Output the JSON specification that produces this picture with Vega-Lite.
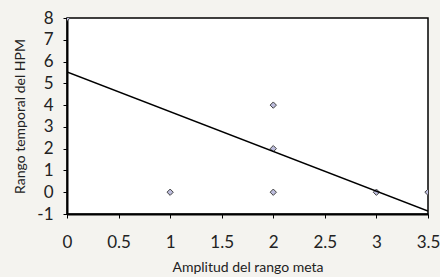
{
  "$schema": "https://vega.github.io/schema/vega-lite/v6.json",
  "width": 361,
  "height": 196,
  "autosize": {"type": "none"},
  "padding": {"left": 67, "top": 18, "right": 12, "bottom": 63},
  "background": "#f4f3ef",
  "config": {
    "view": {"stroke": "#000000", "strokeWidth": 1.5, "fill": "#ffffff"},
    "axis": {
      "grid": false,
      "domainColor": "#000000",
      "domainWidth": 2,
      "tickColor": "#000000",
      "tickSize": 4,
      "labelOverlap": false,
      "labelFont": "Lato",
      "titleFont": "Lato",
      "labelFontSize": 17,
      "titleFontSize": 14,
      "titleFontWeight": "normal",
      "labelColor": "#222222",
      "titleColor": "#222222"
    }
  },
  "encoding": {
    "x": {"field": "x", "type": "quantitative", "scale": {"domain": [0, 3.5], "nice": false, "zero": false},
          "axis": {"values": [0, 0.5, 1, 1.5, 2, 2.5, 3, 3.5], "labelOverlap": false, "labelExpr": "datum.value + ''", "title": "Amplitud del rango meta", "labelPadding": 16, "titleY": 57, "titleBaseline": "alphabetic", "labelFlush": false}},
    "y": {"field": "y", "type": "quantitative", "scale": {"domain": [-1, 8], "nice": false, "zero": false},
          "axis": {"values": [-1, 0, 1, 2, 3, 4, 5, 6, 7, 8], "labelOverlap": false, "labelFlush": false, "labelBound": false, "labelExpr": "datum.value + ''", "title": "Rango temporal del HPM", "labelPadding": 10, "titleX": -40, "titleY": 98, "titleAngle": -90, "titleAlign": "center", "titleBaseline": "bottom"}}
  },
  "layer": [
    {
      "data": {"values": [
        {"x": 0, "y": 8},
        {"x": 1, "y": 0},
        {"x": 2, "y": 4},
        {"x": 2, "y": 2},
        {"x": 2, "y": 0},
        {"x": 3, "y": 0},
        {"x": 3.5, "y": 0}
      ]},
      "mark": {"type": "point", "shape": "diamond", "filled": true, "fill": "#bcbcdc", "stroke": "#444444", "strokeWidth": 1, "size": 40, "opacity": 1, "clip": true}
    },
    {
      "data": {"values": [
        {"x": 0, "y": 5.52},
        {"x": 3.5, "y": -0.87}
      ]},
      "mark": {"type": "line", "color": "#000000", "strokeWidth": 1.5, "clip": true}
    }
  ]
}
